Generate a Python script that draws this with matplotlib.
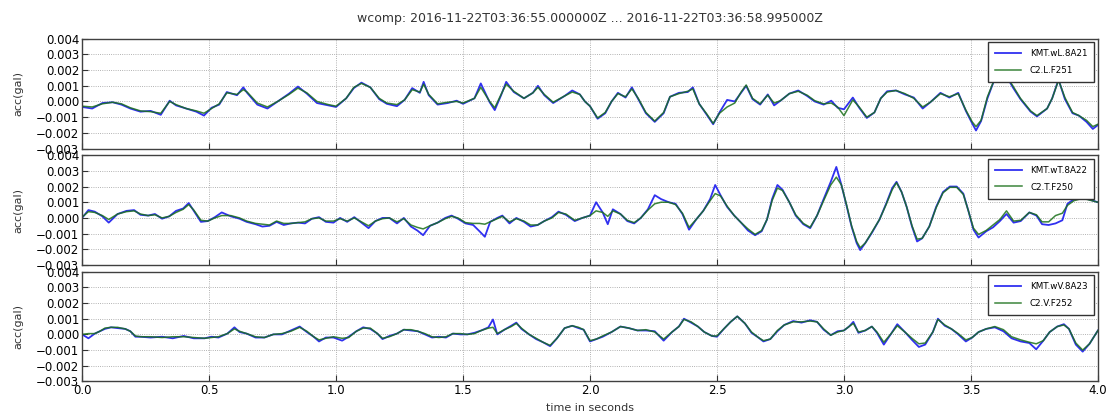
import matplotlib
matplotlib.use("Agg")
import matplotlib.pyplot as plt
from matplotlib.ticker import MultipleLocator

# acceleration traces in units of 0.001 gal, sampled at the listed times (s)
t_L = [0.0, 0.04, 0.08, 0.12, 0.155, 0.19, 0.23, 0.27, 0.31, 0.345, 0.37, 0.41, 0.45, 0.48,
       0.51, 0.54, 0.57, 0.61, 0.635, 0.65, 0.69, 0.73, 0.77, 0.815, 0.85, 0.885, 0.925, 0.97,
       1.0, 1.04, 1.07, 1.10, 1.135, 1.17, 1.20, 1.24, 1.27, 1.30, 1.33, 1.345, 1.365, 1.40,
       1.44, 1.475, 1.50, 1.545, 1.57, 1.605, 1.625, 1.65, 1.67, 1.70, 1.74, 1.775, 1.795, 1.82,
       1.855, 1.90, 1.93, 1.96, 1.98, 2.0, 2.03, 2.06, 2.085, 2.11, 2.14, 2.165, 2.19, 2.22,
       2.255, 2.29, 2.315, 2.35, 2.385, 2.405, 2.43, 2.46, 2.485, 2.51, 2.54, 2.57, 2.595, 2.615,
       2.64, 2.67, 2.70, 2.725, 2.75, 2.785, 2.82, 2.855, 2.885, 2.92, 2.95, 2.975, 3.0, 3.035,
       3.06, 3.09, 3.12, 3.145, 3.17, 3.205, 3.24, 3.275, 3.31, 3.34, 3.38, 3.415, 3.45, 3.48,
       3.505, 3.52, 3.54, 3.565, 3.595, 3.63, 3.665, 3.695, 3.735, 3.76, 3.80, 3.82, 3.845, 3.87,
       3.90, 3.925, 3.955, 3.98, 4.0]
kmt_L = [-0.35, -0.45, -0.1, -0.05, -0.2, -0.45, -0.65, -0.6, -0.85, 0.05, -0.25, -0.45, -0.65, -0.9,
         -0.4, -0.2, 0.6, 0.4, 0.9, 0.55, -0.2, -0.45, 0.0, 0.5, 0.95, 0.5, -0.1, -0.25,
         -0.35, 0.2, 0.85, 1.2, 0.9, 0.15, -0.15, -0.3, 0.1, 0.85, 0.55, 1.25, 0.4, -0.2,
         -0.1, 0.05, -0.15, 0.2, 1.15, -0.05, -0.55, 0.4, 1.25, 0.6, 0.2, 0.55, 1.0, 0.4,
         -0.1, 0.35, 0.7, 0.45, 0.0, -0.3, -1.1, -0.75, 0.0, 0.55, 0.25, 0.9, 0.15, -0.75,
         -1.3, -0.75, 0.3, 0.55, 0.6, 0.9, -0.15, -0.85, -1.45, -0.7, 0.1, 0.0, 0.55, 1.0,
         0.15, -0.2, 0.45, -0.25, 0.05, 0.5, 0.7, 0.35, 0.0, -0.2, 0.05, -0.4, -0.5, 0.25,
         -0.4, -1.05, -0.7, 0.2, 0.65, 0.7, 0.45, 0.25, -0.45, -0.05, 0.55, 0.25, 0.55, -0.6,
         -1.4, -1.85, -1.25, 0.2, 1.5, 1.9, 0.9, 0.15, -0.65, -0.95, -0.45, 0.2, 1.4, 0.15,
         -0.75, -0.9, -1.3, -1.75, -1.5]
c2_L = [-0.3, -0.35, -0.15, -0.05, -0.15, -0.4, -0.6, -0.65, -0.75, 0.0, -0.2, -0.45, -0.6, -0.75,
        -0.45, -0.15, 0.55, 0.45, 0.75, 0.6, -0.1, -0.35, 0.0, 0.45, 0.85, 0.55, 0.0, -0.2,
        -0.3, 0.2, 0.9, 1.15, 0.9, 0.2, -0.1, -0.2, 0.1, 0.75, 0.6, 1.1, 0.45, -0.15,
        -0.05, 0.0, -0.1, 0.2, 0.9, 0.0, -0.4, 0.45, 1.1, 0.65, 0.2, 0.55, 0.9, 0.45,
        -0.05, 0.35, 0.6, 0.45, 0.0, -0.3, -1.05, -0.7, 0.0, 0.5, 0.3, 0.8, 0.2, -0.7,
        -1.25, -0.7, 0.3, 0.5, 0.65, 0.8, -0.15, -0.8, -1.4, -0.75, -0.35, -0.1, 0.6, 1.05,
        0.2, -0.15, 0.4, -0.1, 0.05, 0.5, 0.65, 0.4, 0.05, -0.15, -0.1, -0.35, -0.9, 0.1,
        -0.35, -1.0, -0.7, 0.2, 0.6, 0.7, 0.5, 0.2, -0.35, -0.05, 0.5, 0.3, 0.5, -0.55,
        -1.3, -1.6, -1.2, 0.3, 1.5, 1.85, 1.0, 0.2, -0.6, -0.9, -0.45, 0.2, 1.35, 0.25,
        -0.7, -0.9, -1.2, -1.6, -1.45]

t_T = [0.0, 0.025, 0.05, 0.08, 0.105, 0.14, 0.175, 0.205, 0.23, 0.26, 0.287, 0.315, 0.343, 0.37,
       0.398, 0.42, 0.44, 0.468, 0.495, 0.523, 0.55, 0.586, 0.62, 0.648, 0.683, 0.71, 0.738, 0.766,
       0.794, 0.822, 0.85, 0.878, 0.905, 0.933, 0.96, 0.99, 1.016, 1.044, 1.072, 1.1, 1.128, 1.155,
       1.183, 1.21, 1.24, 1.267, 1.295, 1.32, 1.343, 1.37, 1.4, 1.43, 1.455, 1.48, 1.51, 1.54,
       1.565, 1.586, 1.607, 1.635, 1.655, 1.683, 1.71, 1.74, 1.766, 1.794, 1.82, 1.85, 1.876, 1.905,
       1.94, 1.97, 2.0, 2.024, 2.05, 2.07, 2.09, 2.12, 2.147, 2.174, 2.2, 2.228, 2.255, 2.28,
       2.31, 2.337, 2.364, 2.39, 2.418, 2.446, 2.473, 2.493, 2.514, 2.54, 2.568, 2.595, 2.622, 2.65,
       2.676, 2.697, 2.717, 2.738, 2.758, 2.785, 2.81, 2.84, 2.867, 2.894, 2.92, 2.948, 2.97, 2.99,
       3.01, 3.03, 3.05, 3.064, 3.084, 3.11, 3.14, 3.166, 3.19, 3.207, 3.227, 3.247, 3.268, 3.288,
       3.308, 3.336, 3.363, 3.39, 3.417, 3.444, 3.47, 3.49, 3.51, 3.53, 3.56, 3.587, 3.614, 3.64,
       3.668, 3.696, 3.73, 3.758, 3.78, 3.806, 3.833, 3.86, 3.88, 3.906, 3.94, 4.0]
kmt_T = [0.0, 0.5, 0.4, 0.1, -0.3, 0.25, 0.45, 0.5, 0.2, 0.15, 0.25, -0.05, 0.1, 0.45,
         0.6, 0.95, 0.45, -0.25, -0.2, 0.05, 0.35, 0.1, -0.05, -0.25, -0.4, -0.55, -0.5, -0.25,
         -0.45, -0.35, -0.3, -0.35, -0.05, 0.05, -0.25, -0.3, 0.0, -0.25, 0.05, -0.3, -0.65, -0.2,
         0.0, 0.0, -0.35, 0.0, -0.55, -0.8, -1.1, -0.5, -0.3, 0.0, 0.15, -0.05, -0.35, -0.45,
         -0.85, -1.2, -0.25, 0.0, 0.15, -0.35, 0.0, -0.25, -0.55, -0.45, -0.2, 0.05, 0.4, 0.2,
         -0.2, 0.0, 0.15, 1.0, 0.35, -0.4, 0.55, 0.25, -0.2, -0.35, 0.0, 0.55, 1.45, 1.2,
         1.0, 0.9, 0.25, -0.75, -0.1, 0.45, 1.2, 2.1, 1.45, 0.7, 0.15, -0.3, -0.8, -1.1,
         -0.85, -0.1, 1.2, 2.1, 1.8, 1.0, 0.15, -0.4, -0.65, 0.15, 1.2, 2.3, 3.25, 2.1,
         0.8, -0.55, -1.6, -2.05, -1.6, -0.95, -0.1, 0.9, 1.9, 2.3, 1.65, 0.7, -0.55, -1.5,
         -1.3, -0.55, 0.7, 1.65, 2.0, 2.0, 1.55, 0.45, -0.75, -1.25, -0.85, -0.6, -0.2, 0.25,
         -0.3, -0.2, 0.35, 0.15, -0.4, -0.45, -0.35, -0.15, 0.9, 1.2, 1.3, 1.0]
c2_T = [0.05, 0.4, 0.35, 0.15, -0.1, 0.25, 0.4, 0.45, 0.25, 0.15, 0.2, 0.0, 0.1, 0.35,
        0.55, 0.85, 0.5, -0.15, -0.2, 0.0, 0.15, 0.15, 0.0, -0.2, -0.35, -0.4, -0.45, -0.2,
        -0.35, -0.35, -0.3, -0.25, -0.05, 0.0, -0.2, -0.2, -0.05, -0.2, 0.0, -0.25, -0.5, -0.2,
        -0.05, 0.0, -0.25, -0.05, -0.45, -0.6, -0.7, -0.5, -0.3, -0.05, 0.1, 0.0, -0.3, -0.35,
        -0.35, -0.4, -0.25, -0.05, 0.1, -0.25, -0.05, -0.2, -0.45, -0.45, -0.2, 0.0, 0.35, 0.25,
        -0.15, 0.0, 0.15, 0.45, 0.35, 0.1, 0.45, 0.25, -0.15, -0.3, 0.0, 0.5, 0.9, 1.0,
        1.0, 0.85, 0.3, -0.6, -0.1, 0.45, 1.1, 1.55, 1.4, 0.75, 0.15, -0.3, -0.7, -1.05,
        -0.8, -0.1, 1.1, 1.9, 1.75, 1.0, 0.2, -0.35, -0.6, 0.15, 1.1, 2.1, 2.6, 2.1,
        0.85, -0.5, -1.5, -1.9, -1.6, -0.9, -0.1, 0.85, 1.8, 2.25, 1.65, 0.7, -0.5, -1.35,
        -1.3, -0.55, 0.65, 1.6, 1.95, 1.95, 1.5, 0.45, -0.65, -1.05, -0.8, -0.45, -0.1, 0.45,
        -0.2, -0.15, 0.35, 0.2, -0.25, -0.25, 0.15, 0.3, 0.8, 1.1, 1.25, 1.0]

t_V = [0.0, 0.025, 0.05, 0.07, 0.09, 0.114, 0.14, 0.17, 0.19, 0.21, 0.23, 0.27, 0.315, 0.357,
       0.4, 0.44, 0.482, 0.51, 0.537, 0.572, 0.6, 0.62, 0.648, 0.683, 0.718, 0.753, 0.787, 0.822,
       0.857, 0.885, 0.912, 0.933, 0.96, 0.99, 1.024, 1.05, 1.08, 1.107, 1.135, 1.163, 1.183, 1.21,
       1.24, 1.267, 1.295, 1.322, 1.35, 1.378, 1.405, 1.433, 1.46, 1.49, 1.517, 1.545, 1.572, 1.6,
       1.618, 1.635, 1.663, 1.69, 1.71, 1.73, 1.76, 1.788, 1.815, 1.843, 1.87, 1.9, 1.93, 1.955,
       1.975, 2.0, 2.025, 2.05, 2.085, 2.12, 2.153, 2.187, 2.22, 2.255, 2.29, 2.323, 2.35, 2.37,
       2.398, 2.425, 2.45, 2.48, 2.5, 2.527, 2.554, 2.58, 2.61, 2.636, 2.663, 2.683, 2.71, 2.738,
       2.765, 2.8, 2.833, 2.867, 2.894, 2.92, 2.948, 2.975, 3.0, 3.02, 3.037, 3.057, 3.084, 3.11,
       3.13, 3.157, 3.186, 3.21, 3.24, 3.268, 3.295, 3.32, 3.35, 3.37, 3.397, 3.423, 3.45, 3.48,
       3.505, 3.53, 3.56, 3.594, 3.628, 3.66, 3.696, 3.73, 3.757, 3.785, 3.81, 3.84, 3.866, 3.886,
       3.913, 3.94, 3.967, 4.0]
kmt_V = [0.0, -0.25, 0.05, 0.2, 0.35, 0.45, 0.4, 0.35, 0.2, -0.15, -0.15, -0.2, -0.15, -0.25,
         -0.1, -0.25, -0.25, -0.15, -0.2, 0.05, 0.45, 0.15, 0.05, -0.2, -0.2, 0.0, 0.0, 0.25,
         0.5, 0.15, -0.15, -0.45, -0.2, -0.2, -0.4, -0.15, 0.2, 0.45, 0.35, 0.05, -0.3, -0.1,
         0.05, 0.3, 0.25, 0.2, 0.0, -0.2, -0.15, -0.2, 0.05, 0.0, 0.0, 0.1, 0.25, 0.45,
         0.95, 0.0, 0.3, 0.55, 0.75, 0.35, 0.0, -0.3, -0.5, -0.75, -0.25, 0.4, 0.55, 0.4,
         0.3, -0.45, -0.3, -0.15, 0.15, 0.5, 0.4, 0.25, 0.25, 0.2, -0.4, 0.15, 0.5, 1.0,
         0.75, 0.5, 0.15, -0.1, -0.15, 0.35, 0.8, 1.15, 0.7, 0.1, -0.2, -0.45, -0.3, 0.2,
         0.6, 0.85, 0.75, 0.9, 0.8, 0.3, -0.05, 0.2, 0.25, 0.5, 0.8, 0.1, 0.25, 0.5,
         0.1, -0.65, 0.05, 0.65, 0.15, -0.35, -0.8, -0.65, 0.15, 1.0, 0.55, 0.35, 0.0, -0.45,
         -0.2, 0.15, 0.35, 0.45, 0.2, -0.25, -0.45, -0.55, -0.95, -0.4, 0.15, 0.5, 0.65, 0.35,
         -0.65, -1.1, -0.6, 0.25]
c2_V = [0.0, 0.05, 0.05, 0.2, 0.4, 0.45, 0.45, 0.35, 0.2, -0.1, -0.15, -0.15, -0.2, -0.15,
        -0.15, -0.2, -0.25, -0.2, -0.15, 0.05, 0.35, 0.2, 0.05, -0.15, -0.2, 0.0, 0.05, 0.2,
        0.45, 0.2, -0.15, -0.35, -0.25, -0.15, -0.25, -0.2, 0.2, 0.4, 0.4, 0.05, -0.25, -0.15,
        0.05, 0.3, 0.3, 0.2, 0.05, -0.15, -0.2, -0.15, 0.05, 0.05, 0.0, 0.05, 0.25, 0.4,
        0.45, 0.05, 0.3, 0.5, 0.7, 0.4, 0.0, -0.25, -0.5, -0.7, -0.25, 0.4, 0.55, 0.45,
        0.3, -0.4, -0.3, -0.1, 0.15, 0.5, 0.4, 0.25, 0.3, 0.15, -0.3, 0.15, 0.5, 0.95,
        0.8, 0.5, 0.15, -0.1, -0.1, 0.35, 0.8, 1.15, 0.7, 0.15, -0.2, -0.4, -0.3, 0.25,
        0.6, 0.8, 0.8, 0.85, 0.8, 0.35, -0.05, 0.15, 0.25, 0.5, 0.7, 0.15, 0.25, 0.5,
        0.15, -0.5, 0.05, 0.55, 0.15, -0.25, -0.6, -0.55, 0.15, 0.95, 0.6, 0.35, 0.05, -0.35,
        -0.2, 0.15, 0.35, 0.5, 0.3, -0.15, -0.35, -0.5, -0.6, -0.4, 0.15, 0.5, 0.6, 0.35,
        -0.55, -1.0, -0.6, 0.25]

panels = [
    (t_L, kmt_L, c2_L, "KMT.wL.8A21", "C2.L.F251"),
    (t_T, kmt_T, c2_T, "KMT.wT.8A22", "C2.T.F250"),
    (t_V, kmt_V, c2_V, "KMT.wV.8A23", "C2.V.F252"),
]
title = "wcomp: 2016-11-22T03:36:55.000000Z ... 2016-11-22T03:36:58.995000Z"

plt.rcParams["font.family"] = "DejaVu Sans"
plt.rcParams["axes.unicode_minus"] = True

fig, axes = plt.subplots(3, 1, figsize=(11.09, 4.16), dpi=100, sharex=True)
fig.subplots_adjust(left=0.074, right=0.990, top=0.907, bottom=0.083, hspace=0.06)

for ax, (t, kmt, c2, lab1, lab2) in zip(axes, panels):
    ax.plot(t, [v * 1e-3 for v in kmt], color="#3030f0", lw=1.3, label=lab1)
    ax.plot(t, [v * 1e-3 for v in c2], color="#1a701a", lw=1.1, alpha=0.85, label=lab2)
    ax.set_xlim(0, 4)
    ax.set_ylim(-0.003, 0.004)
    ax.yaxis.set_major_locator(MultipleLocator(0.001))
    ax.xaxis.set_major_locator(MultipleLocator(0.5))
    ax.grid(True, color="0.6", linestyle=":", linewidth=0.6)
    ax.tick_params(direction="in", labelsize=8.5, length=4, color="0.2", pad=2)
    for sp in ax.spines.values():
        sp.set_color("0.25")
        sp.set_linewidth(1.0)
    ax.set_ylabel("acc(gal)", fontsize=8, color="0.2", labelpad=9)
    leg = ax.legend(loc="upper right", fontsize=6.3, fancybox=False, framealpha=1,
                    edgecolor="0.2", handlelength=3.0, borderaxespad=0.4,
                    borderpad=0.8, labelspacing=0.9, handletextpad=1.0)
    leg.get_frame().set_linewidth(1.0)

axes[0].set_title(title, fontsize=9, color="0.2", pad=12)
axes[-1].set_xlabel("time in seconds", fontsize=8, color="0.2", labelpad=4)

fig.savefig("out.png", dpi=100, facecolor="white")
